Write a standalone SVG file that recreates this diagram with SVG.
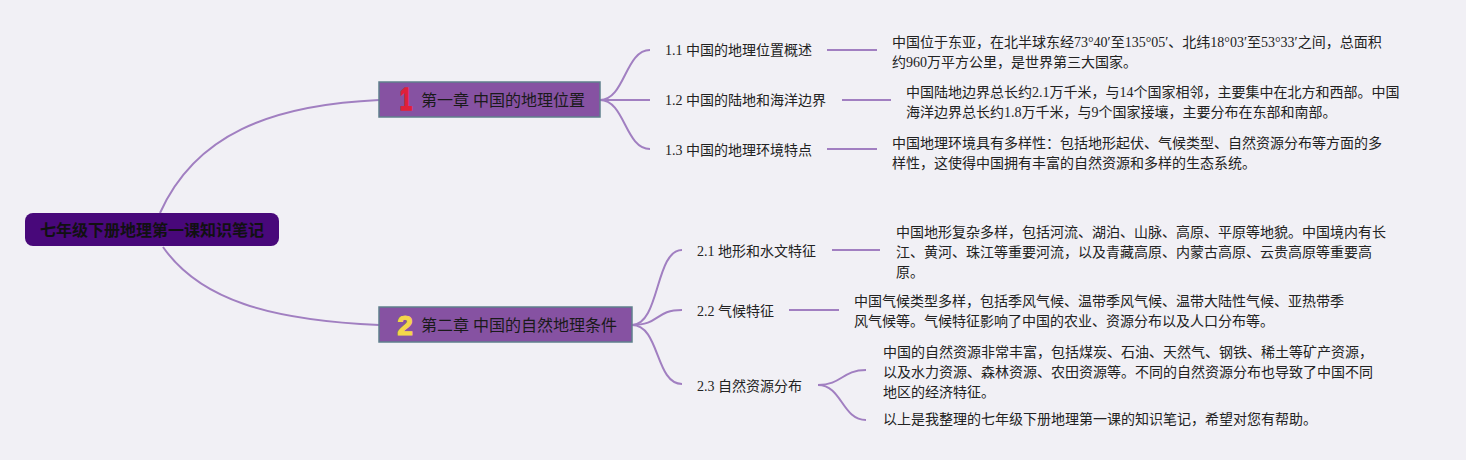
<svg xmlns="http://www.w3.org/2000/svg" width="1466" height="460" viewBox="0 0 1466 460">
<style>
.bg{fill:#f1f0f5}
.conn path{fill:none;stroke:#a17fc1;stroke-width:2}
.root rect{fill:#48087a}
.root text{font-family:"Liberation Sans","Noto Sans CJK SC",sans-serif;font-size:16px;font-weight:bold;fill:#111;text-anchor:middle}
.ch rect{fill:#8652a2;stroke:#5f7f8c;stroke-width:1.5}
.ch text.t{font-family:"Liberation Serif","Noto Sans CJK SC",sans-serif;font-size:16px;fill:#1a1a1a}
.icon{font-family:"Liberation Sans",sans-serif;font-weight:bold;font-size:28px;text-anchor:middle;stroke-width:1.2}
.lbl{font-family:"Liberation Serif","Noto Sans CJK SC",sans-serif;font-size:14px;fill:#222}
.body{font-family:"Liberation Serif","Noto Sans CJK SC",sans-serif;font-size:14px;fill:#222}
</style>
<rect class="bg" x="0" y="0" width="1466" height="460"/>
<g class="conn" id="connectors">
<path d="M160,213 C195,135 270,105 379,100"/>
<path d="M163,247 C200,300 270,320 379,325"/>
<path d="M600,100 C625,100 625,50 650,50"/>
<path d="M600,100 L650,100"/>
<path d="M600,100 C625,100 625,149 650,149"/>
<path d="M632,325 C660,325 655,250 682,250"/>
<path d="M632,325 C660,325 655,310 682,310"/>
<path d="M632,325 C660,325 655,384 682,384"/>
<path d="M827,50 L877,50"/>
<path d="M842,100 L891,100"/>
<path d="M827,149 L877,149"/>
<path d="M832,250 L880,250"/>
<path d="M789,310 L839,310"/>
<path d="M818,385 C842,385 842,370 866,370"/>
<path d="M818,385 C842,385 842,420 866,420"/>
</g>
<g class="root" id="root">
<rect x="25" y="213" width="254" height="33" rx="8"/>
<text x="152" y="236">七年级下册地理第一课知识笔记</text>
</g>
<g class="ch" id="ch1">
<rect x="379" y="82" width="221" height="35"/>
<text class="icon" x="406" y="110" fill="#e0203a" stroke="#e0203a" transform="translate(406,110) scale(0.8,1.1) translate(-406,-110)">1</text>
<text class="t" x="421" y="106">第一章 中国的地理位置</text>
</g>
<g class="ch" id="ch2">
<rect x="379" y="307" width="253" height="35"/>
<text class="icon" x="405" y="335" fill="#f4d64a" stroke="#f4d64a">2</text>
<text class="t" x="421" y="331">第二章 中国的自然地理条件</text>
</g>
<g id="n11"><text class="lbl" x="665" y="55">1.1 中国的地理位置概述</text></g>
<g id="n12"><text class="lbl" x="665" y="105">1.2 中国的陆地和海洋边界</text></g>
<g id="n13"><text class="lbl" x="665" y="155">1.3 中国的地理环境特点</text></g>
<g id="n21"><text class="lbl" x="697" y="256">2.1 地形和水文特征</text></g>
<g id="n22"><text class="lbl" x="697" y="316">2.2 气候特征</text></g>
<g id="n23"><text class="lbl" x="697" y="391">2.3 自然资源分布</text></g>
<g id="t11"><text class="body" x="892" y="47">中国位于东亚，在北半球东经73°40′至135°05′、北纬18°03′至53°33′之间，总面积</text><text class="body" x="892" y="67">约960万平方公里，是世界第三大国家。</text></g>
<g id="t12"><text class="body" x="906" y="97">中国陆地边界总长约2.1万千米，与14个国家相邻，主要集中在北方和西部。中国</text><text class="body" x="906" y="117">海洋边界总长约1.8万千米，与9个国家接壤，主要分布在东部和南部。</text></g>
<g id="t13"><text class="body" x="892" y="148">中国地理环境具有多样性：包括地形起伏、气候类型、自然资源分布等方面的多</text><text class="body" x="892" y="168">样性，这使得中国拥有丰富的自然资源和多样的生态系统。</text></g>
<g id="t21"><text class="body" x="896" y="237">中国地形复杂多样，包括河流、湖泊、山脉、高原、平原等地貌。中国境内有长</text><text class="body" x="896" y="257">江、黄河、珠江等重要河流，以及青藏高原、内蒙古高原、云贵高原等重要高</text><text class="body" x="896" y="277">原。</text></g>
<g id="t22"><text class="body" x="854" y="306">中国气候类型多样，包括季风气候、温带季风气候、温带大陆性气候、亚热带季</text><text class="body" x="854" y="326">风气候等。气候特征影响了中国的农业、资源分布以及人口分布等。</text></g>
<g id="t23a"><text class="body" x="883" y="357">中国的自然资源非常丰富，包括煤炭、石油、天然气、钢铁、稀土等矿产资源，</text><text class="body" x="883" y="377">以及水力资源、森林资源、农田资源等。不同的自然资源分布也导致了中国不同</text><text class="body" x="883" y="397">地区的经济特征。</text></g>
<g id="t23b"><text class="body" x="883" y="424">以上是我整理的七年级下册地理第一课的知识笔记，希望对您有帮助。</text></g>
</svg>
